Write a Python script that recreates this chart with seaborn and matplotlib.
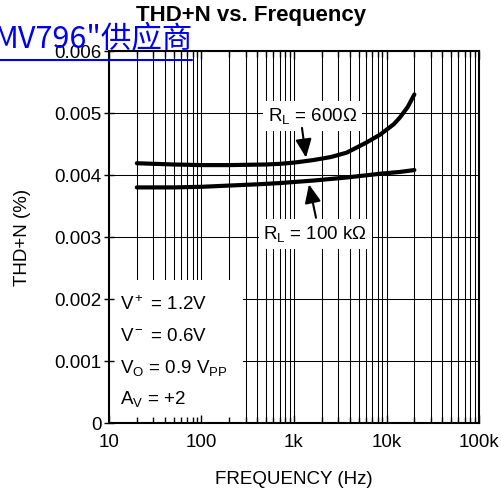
import numpy as np
import pandas as pd
import matplotlib as mpl
from matplotlib import pyplot as plt
from matplotlib.patches import Rectangle
from matplotlib.lines import Line2D
from matplotlib.ticker import LogLocator, NullFormatter
import seaborn as sb

# Graph style
sb.set_theme(style="white")

mpl.rcParams.update({
    "font.family": ["Liberation Sans", "DejaVu Sans"],
    "mathtext.fontset": "custom",
    "mathtext.rm": "Liberation Sans",
    "mathtext.it": "Liberation Sans:italic",
    "mathtext.bf": "Liberation Sans:bold",
    "text.color": "black",
    "axes.edgecolor": "black",
    "axes.linewidth": 1.5,
    "axes.labelcolor": "black",
    "xtick.color": "black",
    "ytick.color": "black",
    "xtick.labelsize": 13.5,
    "ytick.labelsize": 13.5,
})

# Data (Hz, THD+N %)
freq_600 = [20, 50, 100, 200, 500, 700, 1000, 1600, 2500, 3700, 6000, 8500, 12000, 14000, 17000, 20000]
thd_600 = [0.00419, 0.00417, 0.00416, 0.00416, 0.00417, 0.00418, 0.00420, 0.00424, 0.00429,
           0.00436, 0.00452, 0.00465, 0.00482, 0.00493, 0.00510, 0.00530]

freq_100k = [20, 50, 100, 200, 400, 700, 1600, 3700, 8500, 14000, 20000]
thd_100k = [0.00380, 0.00380, 0.00381, 0.00383, 0.00385, 0.00387, 0.00391, 0.00396, 0.00402,
            0.00405, 0.00408]

x_ticks = [10, 100, 1000, 10000, 100000]
x_tick_labels = ["10", "100", "1k", "10k", "100k"]
y_ticks = [0, 0.001, 0.002, 0.003, 0.004, 0.005, 0.006]
y_tick_labels = ["0", "0.001", "0.002", "0.003", "0.004", "0.005", "0.006"]

conditions = [r"V$^{\rm +}$ = 1.2V", r"V$^{\rm -}$ = 0.6V",
              r"V$_{\rm O}$ = 0.9 V$_{\rm PP}$", r"A$_{\rm V}$ = +2"]

df = pd.concat([
    pd.DataFrame({"freq": freq_600, "thd": thd_600, "load": "600"}),
    pd.DataFrame({"freq": freq_100k, "thd": thd_100k, "load": "100k"}),
])

fig = plt.figure(figsize=(5.02, 4.92), dpi=100)
pos = [0.2171, 0.1402, 0.7371, 0.7561]
ax = fig.add_axes(pos)

sb.lineplot(data=df, x="freq", y="thd", hue="load", palette={"600": "black", "100k": "black"},
            linewidth=3, legend=False, estimator=None, ax=ax, zorder=2)

ax.set_xscale("log")
ax.set_xlim(10, 100000)
ax.set_ylim(0, 0.006)
ax.set_yticks(y_ticks)
ax.xaxis.set_minor_locator(LogLocator(base=10, subs=np.arange(2, 10)))
ax.set_axisbelow(True)
ax.grid(True, which="both", color="black", linewidth=0.75)
ax.tick_params(which="both", length=0, labelbottom=False, labelleft=False)
ax.set_xlabel("")
ax.set_ylabel("")
for s in ax.spines.values():
    s.set_visible(False)

# white panel behind the test conditions
ax.add_patch(Rectangle((0.003, 0), 0.36, 0.384, transform=ax.transAxes,
                       facecolor="white", edgecolor="none", zorder=1))
for i, line in enumerate(conditions):
    ax.text(0.030, 0.304 - i * 0.0843, line, transform=ax.transAxes,
            fontsize=13.5, va="baseline", ha="left", zorder=3)

box = dict(boxstyle="square,pad=0.25", facecolor="white", edgecolor="none")
ax.text(523, 0.00487, r"R$_{\rm L}$ = 600Ω", fontsize=13.5, va="baseline", ha="left",
        bbox=box, zorder=3)
ax.text(466, 0.00297, r"R$_{\rm L}$ = 100 kΩ", fontsize=13.5, va="baseline", ha="left",
        bbox=box, zorder=3)

arrow = dict(arrowstyle="-|>,head_length=0.8,head_width=0.35", color="black", lw=1.5,
             mutation_scale=14, shrinkA=0, shrinkB=0)
ax.annotate("", xy=(1349, 0.00428), xytext=(1220, 0.00476), arrowprops=arrow, zorder=3)
ax.annotate("", xy=(1452, 0.00385), xytext=(1730, 0.00331), arrowprops=arrow, zorder=3)

# overlay axes for spines, ticks and labels (kept above the white panel)
ax2 = fig.add_axes(pos)
ax2.set_facecolor("none")
ax2.set_xscale("log")
ax2.set_xlim(10, 100000)
ax2.set_ylim(0, 0.006)
ax2.set_xticks(x_ticks, x_tick_labels)
ax2.xaxis.set_minor_locator(LogLocator(base=10, subs=np.arange(2, 10)))
ax2.xaxis.set_minor_formatter(NullFormatter())
ax2.set_yticks(y_ticks, y_tick_labels)
ax2.tick_params(axis="x", which="major", direction="in", length=6, width=1.0, pad=8,
                top=True, bottom=True)
ax2.tick_params(axis="x", which="minor", direction="in", length=4, width=1.0,
                top=True, bottom=True)
ax2.tick_params(axis="y", which="major", direction="inout", length=7, width=1.0, pad=2,
                left=True, right=False)
ax2.set_xlabel("FREQUENCY (Hz)", fontsize=13.5)
ax2.set_ylabel("THD+N (%)", fontsize=13.5)
ax2.xaxis.set_label_coords(0.5, -0.128)
ax2.yaxis.set_label_coords(-0.212, 0.5)

fig.text(0.5, 0.9695, "THD+N vs. Frequency", fontsize=16, fontweight="bold",
         ha="center", va="center")

# blue link text overlay at the top left
fig.text(-0.012, 0.9045, 'MV796"供应商', fontsize=22, color="#0000EE",
         family=["Noto Sans CJK SC", "DejaVu Sans"], ha="left", va="baseline", zorder=10)
fig.add_artist(Line2D([0, 0.383], [0.878, 0.878], transform=fig.transFigure,
                      color="#0000EE", linewidth=1.5, zorder=10))

fig.savefig("out.png", dpi=100)
